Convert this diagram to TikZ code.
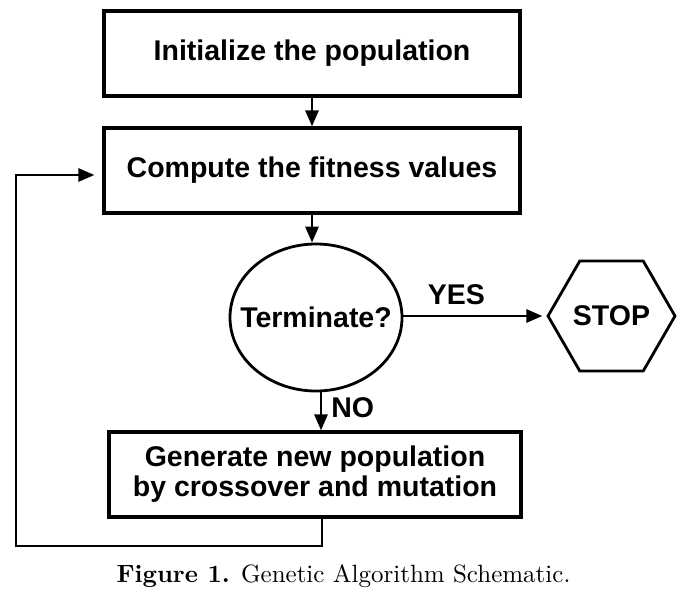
\documentclass[tikz,border=0pt]{standalone}
\usepackage{fontspec}
\newfontfamily\hv{Liberation Sans}
\usetikzlibrary{shapes.geometric,arrows.meta}
\begin{document}
\begin{tikzpicture}[x=1pt,y=-1pt,
  txt/.style={font=\hv\bfseries\fontsize{28.5}{30}\selectfont},
  stepbox/.style={draw, line width=3.2pt, rectangle, inner sep=0pt, minimum width=416pt, minimum height=85pt, align=center, txt},
  decision/.style={draw, line width=2.8pt, ellipse, inner sep=0pt, minimum width=172pt, minimum height=147pt},
  stophex/.style={draw, line width=2.8pt, regular polygon, regular polygon sides=6, inner sep=0pt, minimum size=127pt, txt},
  lbl/.style={inner sep=0pt, txt},
  arr/.style={line width=2.8pt, -{Triangle[length=16pt,width=13pt]}}
]
\useasboundingbox (0,0) rectangle (682,594);
\node[stepbox] (b1) at (312,53.5) {Initialize the population};
\node[stepbox] (b2) at (312,170.5) {Compute the fitness values};
\node[decision, label={[lbl]center:Terminate?}] (ell) at (316,317.5) {};
\node[stophex] (stop) at (611.5,316) {STOP};
\node[stepbox, minimum width=412pt] (b3) at (315,474.5) {Generate new population\\by crossover and mutation};
\coordinate (lp) at (16,546);
\draw[arr] (b1.south) -- (b2.north);
\draw[arr] (b2.south) -- (b2.south |- ell.north);
\draw[arr, shorten >=4pt] (ell.east |- stop.west) -- (stop.west) node[lbl, pos=0.37, above=10pt] {YES};
\draw[arr] ([xshift=5pt]ell.south) -- ([xshift=5pt]ell.south |- b3.north) node[lbl, midway, right=9pt, yshift=3.5pt] {NO};
\draw[arr, shorten >=8pt] ([xshift=7pt]b3.south) |- (lp) |- ([yshift=-4.5pt]b2.west);
\node[scale=2.5, inner sep=0pt] (cap) at (343.5,576) {\fontsize{10}{12}\selectfont\textbf{Figure 1.} Genetic Algorithm Schematic.};
\end{tikzpicture}
\end{document}
